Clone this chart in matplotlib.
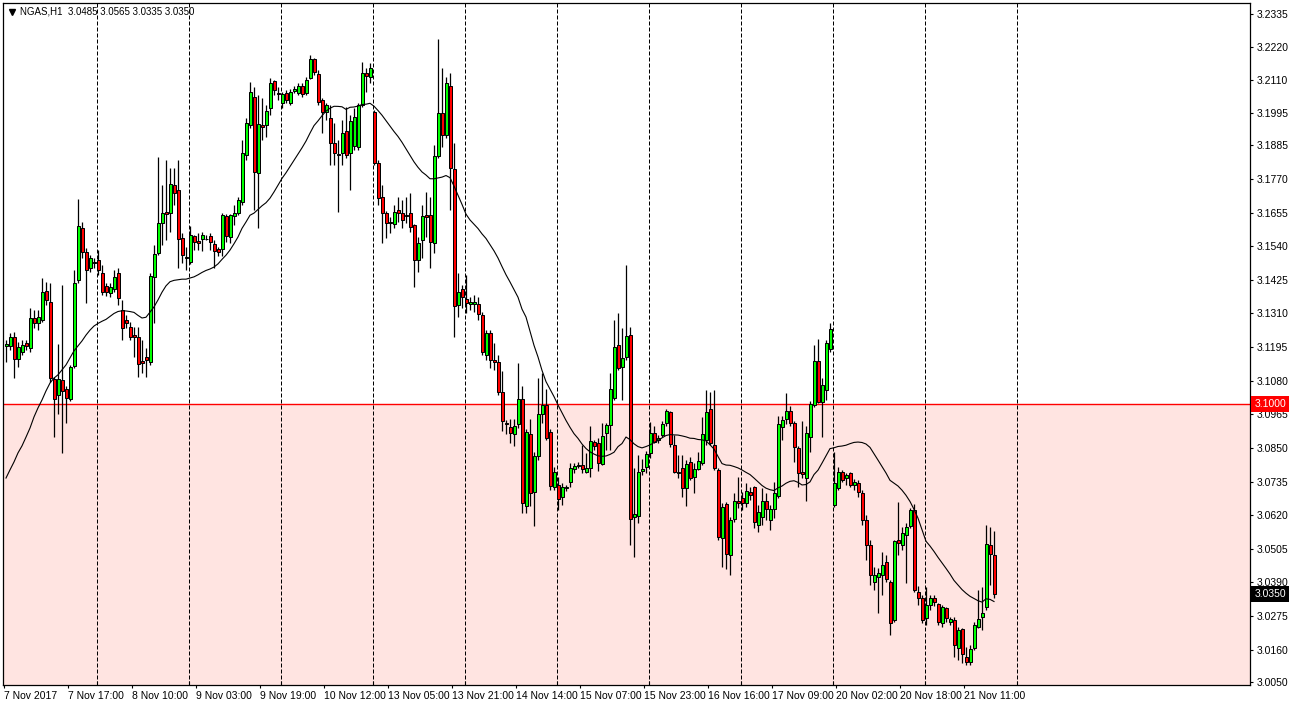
import matplotlib
matplotlib.use("Agg")
import numpy as np
import pandas as pd
import matplotlib.pyplot as plt
from matplotlib.lines import Line2D
from matplotlib.transforms import blended_transform_factory

plt.rcParams['font.family'] = ['Liberation Sans', 'DejaVu Sans']
plt.rcParams['font.size'] = 7.5

# NGAS H1 candles, 7 Nov 2017 01:00 .. 21 Nov 2017, one line per trading day
opens = [
    3.1199, 3.1199, 3.1229, 3.1154, 3.1178, 3.1209, 3.1192, 3.1294, 3.1277, 3.1288, 3.1387, 3.1349, 3.1086, 3.1031, 3.1082, 3.1052, 3.1017, 3.1130, 3.1424, 3.1602, 3.1520, 3.1465, 3.1486,
    3.1493, 3.1448, 3.1404, 3.1380, 3.1394, 3.1448, 3.1322, 3.1288, 3.1264, 3.1236, 3.1229, 3.1147, 3.1161, 3.1144, 3.1435, 3.1517, 3.1619, 3.1657, 3.1654, 3.1749, 3.1732, 3.1568, 3.1503,
    3.1486, 3.1575, 3.1558, 3.1565, 3.1565, 3.1575, 3.1548, 3.1531, 3.1531, 3.1643, 3.1571, 3.1643, 3.1654, 3.1691, 3.1852, 3.1955, 3.2050, 3.1790, 3.1955, 3.1955, 3.2013, 3.2105, 3.2064,
    3.2030, 3.2064, 3.2030, 3.2071, 3.2064, 3.2088, 3.2064, 3.2115, 3.2180, 3.2129, 3.2040, 3.1999, 3.1978, 3.1893, 3.1855, 3.1859, 3.1934, 3.1859, 3.1883, 3.1879, 3.2023, 3.2132, 3.2119,
    3.1999, 3.1825, 3.1708, 3.1654, 3.1623, 3.1616, 3.1664, 3.1654, 3.1647, 3.1654, 3.1613, 3.1493, 3.1561, 3.1647, 3.1647, 3.1551, 3.1848, 3.1996, 3.1920, 3.2088, 3.1804, 3.1339, 3.1394,
    3.1359, 3.1342, 3.1342, 3.1342, 3.1305, 3.1168, 3.1243, 3.1151, 3.1144, 3.1041, 3.0935, 3.0922, 3.0898, 3.0932, 3.1017, 3.0651, 3.0898, 3.0699, 3.0823, 3.0966, 3.0997, 3.0905, 3.0716,
    3.0723, 3.0682, 3.0713, 3.0734, 3.0778, 3.0788, 3.0792, 3.0768, 3.0781, 3.0870, 3.0867, 3.0795, 3.0901, 3.0929, 3.1021, 3.1202, 3.1127, 3.1161, 3.1236, 3.0614, 3.0617, 3.0771, 3.0785,
    3.0833, 3.0901, 3.0877, 3.0894, 3.0935, 3.0973, 3.0860, 3.0768, 3.0781, 3.0713, 3.0802, 3.0750, 3.0778, 3.0798, 3.0877, 3.0983, 3.0860, 3.0775, 3.0542, 3.0658, 3.0484, 3.0607, 3.0669,
    3.0679, 3.0662, 3.0699, 3.0716, 3.0586, 3.0614, 3.0669, 3.0604, 3.0641, 3.0686, 3.0922, 3.0949, 3.0976, 3.0935, 3.0850, 3.0768, 3.0747, 3.0887, 3.0997, 3.1147, 3.1007, 3.1048, 3.1188,
    3.0655, 3.0713, 3.0768, 3.0747, 3.0764, 3.0723, 3.0730, 3.0696, 3.0604, 3.0518, 3.0392, 3.0409, 3.0416, 3.0460, 3.0392, 3.0262, 3.0535, 3.0518, 3.0552, 3.0583, 3.0638, 3.0357, 3.0337,
    3.0269, 3.0313, 3.0337, 3.0316, 3.0251, 3.0303, 3.0255, 3.0262, 3.0166, 3.0231, 3.0135, 3.0118, 3.0166, 3.0238, 3.0272, 3.0306, 3.0518, 3.0485,
]
highs = [
    3.1219, 3.1243, 3.1247, 3.1212, 3.1219, 3.1219, 3.1329, 3.1322, 3.1322, 3.1431, 3.1418, 3.1414, 3.1093, 3.1206, 3.1407, 3.1062, 3.1134, 3.1459, 3.1701, 3.1623, 3.1534, 3.1510, 3.1500,
    3.1527, 3.1476, 3.1414, 3.1414, 3.1459, 3.1465, 3.1356, 3.1305, 3.1281, 3.1264, 3.1264, 3.1219, 3.1192, 3.1448, 3.1544, 3.1845, 3.1749, 3.1835, 3.1808, 3.1808, 3.1835, 3.1585, 3.1537,
    3.1609, 3.1578, 3.1585, 3.1589, 3.1578, 3.1585, 3.1561, 3.1537, 3.1654, 3.1650, 3.1650, 3.1681, 3.1708, 3.1903, 3.1978, 3.2102, 3.2084, 3.2057, 3.2047, 3.2023, 3.2115, 3.2108, 3.2084,
    3.2067, 3.2074, 3.2078, 3.2088, 3.2098, 3.2098, 3.2119, 3.2194, 3.2184, 3.2143, 3.2047, 3.2030, 3.2023, 3.1961, 3.1903, 3.1972, 3.2016, 3.1989, 3.2013, 3.2030, 3.2170, 3.2149, 3.2167,
    3.2006, 3.1835, 3.1749, 3.1660, 3.1640, 3.1681, 3.1708, 3.1698, 3.1708, 3.1722, 3.1616, 3.1571, 3.1681, 3.1725, 3.1708, 3.1886, 3.2249, 3.2149, 3.2119, 3.2132, 3.1893, 3.1448, 3.1407,
    3.1441, 3.1366, 3.1373, 3.1366, 3.1315, 3.1253, 3.1253, 3.1209, 3.1168, 3.1113, 3.0946, 3.0949, 3.0949, 3.1141, 3.1062, 3.0915, 3.0949, 3.0836, 3.1089, 3.1106, 3.1052, 3.0915, 3.0785,
    3.0750, 3.0730, 3.0723, 3.0798, 3.0798, 3.0802, 3.0860, 3.0833, 3.0925, 3.0877, 3.0884, 3.0935, 3.0935, 3.1106, 3.1288, 3.1311, 3.1260, 3.1476, 3.1264, 3.0781, 3.0826, 3.0812, 3.0840,
    3.0939, 3.0925, 3.0894, 3.0942, 3.0983, 3.0976, 3.0894, 3.0826, 3.0826, 3.0809, 3.0819, 3.0798, 3.0836, 3.0956, 3.1048, 3.1041, 3.1048, 3.0781, 3.0662, 3.0665, 3.0614, 3.0696, 3.0750,
    3.0699, 3.0730, 3.0716, 3.0720, 3.0655, 3.0713, 3.0696, 3.0655, 3.0734, 3.0959, 3.0959, 3.1038, 3.0993, 3.0942, 3.0857, 3.0942, 3.0925, 3.1011, 3.1202, 3.1223, 3.1089, 3.1219, 3.1277,
    3.0836, 3.0785, 3.0775, 3.0764, 3.0768, 3.0744, 3.0740, 3.0706, 3.0621, 3.0535, 3.0443, 3.0439, 3.0494, 3.0484, 3.0398, 3.0535, 3.0665, 3.0580, 3.0593, 3.0645, 3.0658, 3.0378, 3.0347,
    3.0374, 3.0347, 3.0347, 3.0320, 3.0313, 3.0306, 3.0272, 3.0272, 3.0238, 3.0234, 3.0169, 3.0176, 3.0255, 3.0364, 3.0374, 3.0586, 3.0580, 3.0565,
]
lows = [
    3.1144, 3.1185, 3.1089, 3.1127, 3.1168, 3.1185, 3.1178, 3.1260, 3.1253, 3.1281, 3.1339, 3.1076, 3.0887, 3.0966, 3.0833, 3.0935, 3.1011, 3.1124, 3.1414, 3.1500, 3.1346, 3.1452, 3.1466,
    3.1441, 3.1373, 3.1370, 3.1366, 3.1383, 3.1339, 3.1219, 3.1260, 3.1219, 3.1161, 3.1093, 3.1106, 3.1093, 3.1134, 3.1277, 3.1510, 3.1544, 3.1561, 3.1589, 3.1681, 3.1465, 3.1483, 3.1459,
    3.1479, 3.1527, 3.1527, 3.1524, 3.1561, 3.1527, 3.1465, 3.1506, 3.1506, 3.1554, 3.1551, 3.1613, 3.1647, 3.1681, 3.1835, 3.1944, 3.1664, 3.1602, 3.1903, 3.1913, 3.1989, 3.2057, 3.2040,
    3.2013, 3.2030, 3.2023, 3.2064, 3.2057, 3.2050, 3.2057, 3.2112, 3.2126, 3.2023, 3.1927, 3.1972, 3.1818, 3.1818, 3.1657, 3.1818, 3.1842, 3.1732, 3.1869, 3.1869, 3.2016, 3.2067, 3.2098,
    3.1818, 3.1681, 3.1551, 3.1568, 3.1585, 3.1602, 3.1623, 3.1602, 3.1619, 3.1589, 3.1400, 3.1452, 3.1500, 3.1571, 3.1465, 3.1517, 3.1842, 3.1879, 3.1910, 3.1664, 3.1229, 3.1298, 3.1329,
    3.1312, 3.1322, 3.1315, 3.1288, 3.1168, 3.1151, 3.1124, 3.1117, 3.1031, 3.0908, 3.0898, 3.0867, 3.0857, 3.0918, 3.0627, 3.0627, 3.0651, 3.0583, 3.0809, 3.0935, 3.0877, 3.0706, 3.0706,
    3.0638, 3.0655, 3.0703, 3.0716, 3.0764, 3.0781, 3.0764, 3.0764, 3.0750, 3.0843, 3.0771, 3.0792, 3.0843, 3.0843, 3.1014, 3.1117, 3.1014, 3.1151, 3.0518, 3.0477, 3.0593, 3.0757, 3.0764,
    3.0815, 3.0867, 3.0867, 3.0887, 3.0925, 3.0853, 3.0764, 3.0747, 3.0682, 3.0651, 3.0740, 3.0696, 3.0775, 3.0792, 3.0860, 3.0860, 3.0775, 3.0535, 3.0443, 3.0436, 3.0416, 3.0597, 3.0645,
    3.0638, 3.0648, 3.0672, 3.0576, 3.0562, 3.0586, 3.0604, 3.0569, 3.0610, 3.0679, 3.0877, 3.0932, 3.0925, 3.0802, 3.0716, 3.0747, 3.0669, 3.0836, 3.0990, 3.1004, 3.0887, 3.1014, 3.1178,
    3.0648, 3.0706, 3.0734, 3.0723, 3.0716, 3.0706, 3.0682, 3.0586, 3.0467, 3.0381, 3.0364, 3.0286, 3.0347, 3.0392, 3.0210, 3.0255, 3.0484, 3.0501, 3.0388, 3.0576, 3.0357, 3.0313, 3.0251,
    3.0245, 3.0296, 3.0310, 3.0245, 3.0238, 3.0255, 3.0245, 3.0135, 3.0125, 3.0115, 3.0108, 3.0108, 3.0159, 3.0234, 3.0228, 3.0296, 3.0381, 3.0335,
]
closes = [
    3.1206, 3.1229, 3.1154, 3.1195, 3.1202, 3.1199, 3.1294, 3.1277, 3.1298, 3.1383, 3.1356, 3.1089, 3.1017, 3.1086, 3.1045, 3.1021, 3.1127, 3.1414, 3.1609, 3.1520, 3.1459, 3.1500, 3.1483,
    3.1459, 3.1383, 3.1383, 3.1400, 3.1435, 3.1363, 3.1260, 3.1277, 3.1229, 3.1229, 3.1137, 3.1141, 3.1151, 3.1438, 3.1513, 3.1619, 3.1654, 3.1650, 3.1753, 3.1722, 3.1565, 3.1510, 3.1500,
    3.1578, 3.1554, 3.1551, 3.1578, 3.1563, 3.1554, 3.1524, 3.1520, 3.1647, 3.1575, 3.1647, 3.1654, 3.1698, 3.1859, 3.1961, 3.2067, 3.1794, 3.1958, 3.1948, 3.2002, 3.2098, 3.2074, 3.2061,
    3.2061, 3.2040, 3.2067, 3.2078, 3.2088, 3.2061, 3.2108, 3.2180, 3.2136, 3.2033, 3.1999, 3.2023, 3.1893, 3.1859, 3.1852, 3.1927, 3.1852, 3.1968, 3.1982, 3.2023, 3.2132, 3.2122, 3.2149,
    3.1825, 3.1705, 3.1654, 3.1619, 3.1619, 3.1657, 3.1654, 3.1630, 3.1643, 3.1606, 3.1493, 3.1551, 3.1643, 3.1640, 3.1554, 3.1848, 3.1996, 3.1920, 3.2098, 3.1807, 3.1335, 3.1383, 3.1366,
    3.1346, 3.1349, 3.1349, 3.1308, 3.1178, 3.1243, 3.1151, 3.1144, 3.1041, 3.0942, 3.0932, 3.0901, 3.0925, 3.1017, 3.0662, 3.0905, 3.0696, 3.0823, 3.0966, 3.0997, 3.0884, 3.0720, 3.0768,
    3.0675, 3.0716, 3.0716, 3.0781, 3.0788, 3.0792, 3.0778, 3.0781, 3.0874, 3.0857, 3.0798, 3.0891, 3.0929, 3.1052, 3.1195, 3.1124, 3.1158, 3.1233, 3.0607, 3.0624, 3.0768, 3.0778, 3.0829,
    3.0901, 3.0870, 3.0884, 3.0932, 3.0976, 3.0863, 3.0768, 3.0764, 3.0713, 3.0795, 3.0747, 3.0778, 3.0805, 3.0898, 3.0973, 3.0867, 3.0781, 3.0545, 3.0648, 3.0487, 3.0604, 3.0669, 3.0662,
    3.0662, 3.0703, 3.0689, 3.0597, 3.0631, 3.0669, 3.0641, 3.0641, 3.0696, 3.0932, 3.0946, 3.0976, 3.0935, 3.0853, 3.0764, 3.0761, 3.0901, 3.1000, 3.1147, 3.1007, 3.1065, 3.1209, 3.1257,
    3.0730, 3.0768, 3.0740, 3.0757, 3.0723, 3.0734, 3.0699, 3.0604, 3.0518, 3.0416, 3.0416, 3.0422, 3.0450, 3.0402, 3.0251, 3.0532, 3.0525, 3.0559, 3.0580, 3.0638, 3.0364, 3.0337, 3.0262,
    3.0313, 3.0337, 3.0323, 3.0255, 3.0306, 3.0269, 3.0265, 3.0176, 3.0228, 3.0145, 3.0118, 3.0162, 3.0245, 3.0265, 3.0286, 3.0521, 3.0487, 3.0350,
]

# moving average (24) as shown for the first bars (history before the window)
ma_period = 24
ma_head = [3.0747, 3.0775, 3.0802, 3.0833, 3.0857, 3.0887, 3.0918, 3.0956, 3.0987, 3.1014, 3.1045, 3.1072,
           3.1089, 3.1100, 3.1117, 3.1134, 3.1158, 3.1182, 3.1199, 3.1216, 3.1236, 3.1253, 3.1267]

day_starts = [23, 46, 69, 92, 115, 138, 161, 184, 207, 230, 253]
time_ticks = [0, 16, 32, 48, 64, 80, 96, 112, 128, 144, 160, 176, 192, 208, 224, 240]
time_labels = ["7 Nov 2017", "7 Nov 17:00", "8 Nov 10:00", "9 Nov 03:00", "9 Nov 19:00", "10 Nov 12:00",
               "13 Nov 05:00", "13 Nov 21:00", "14 Nov 14:00", "15 Nov 07:00", "15 Nov 23:00", "16 Nov 16:00",
               "17 Nov 09:00", "20 Nov 02:00", "20 Nov 18:00", "21 Nov 11:00"]
price_ticks = [3.2335, 3.2220, 3.2110, 3.1995, 3.1885, 3.1770, 3.1655, 3.1540, 3.1425, 3.1310, 3.1195,
               3.1080, 3.0965, 3.0850, 3.0735, 3.0620, 3.0505, 3.0390, 3.0275, 3.0160, 3.0050]
level = 3.1000
symbol = "NGAS,H1"

n = len(closes)
assert len(opens) == n and len(highs) == n and len(lows) == n, (len(opens), len(highs), len(lows), n)
idx = np.arange(n)
o = np.array(opens)
c = np.array(closes)
ma = pd.Series(closes).rolling(ma_period).mean().to_numpy()
ma[:len(ma_head)] = ma_head

W, H = 1292, 708
fig = plt.figure(figsize=(W / 100, H / 100), dpi=100)
fig.patch.set_facecolor('white')
ax = fig.add_axes([3 / W, (H - 685) / H, (1250 - 3) / W, (685 - 3) / H])
ax.set_xlim(-0.75, 311)
ax.set_ylim(3.0039, 3.2372)

ax.axhspan(3.0039, level, color='#ffe4e1', lw=0, zorder=0)
ax.axhline(level, color='red', lw=1.0, zorder=1)
for d in day_starts:
    ax.axvline(d - 0.25, color='black', lw=0.72, linestyle=(0, (4, 2)), zorder=1)

ax.vlines(idx, lows, highs, colors='black', lw=0.9, zorder=2)
body_col = np.where(c > o, '#00ff00', np.where(c < o, '#ff0000', 'black'))
ax.bar(idx, np.abs(c - o), bottom=np.minimum(o, c), width=0.75, color=body_col,
       edgecolor='black', linewidth=0.72, zorder=3)
ax.plot(idx, ma, color='black', lw=0.8, zorder=4)

# axes styling like the terminal
for s in ax.spines.values():
    s.set_color('black')
    s.set_linewidth(0.9)
ax.yaxis.tick_right()
ax.set_yticks(price_ticks)
ax.set_yticklabels([f"{v:.4f}" for v in price_ticks])
ax.tick_params(axis='y', direction='out', length=2.5, width=0.8, pad=2, labelsize=7.5)
ax.set_xticks([t - 0.5 for t in time_ticks])
ax.set_xticklabels(time_labels, ha='left')
ax.set_xticks([d - 0.25 for d in day_starts], minor=True)
ax.tick_params(axis='x', which='major', direction='out', length=2.5, width=0.8, pad=2, labelsize=7.5)
ax.tick_params(axis='x', which='minor', direction='in', length=3, width=0.8)

trans = blended_transform_factory(ax.transAxes, ax.transData)
ax.text(1.0035, level, f"{level:.4f}", transform=trans, ha='left', va='center', color='white',
        fontsize=7.5, bbox=dict(boxstyle='square,pad=0.3', fc='red', ec='none'), clip_on=False, zorder=10)
ax.text(1.0035, closes[-1], f"{closes[-1]:.4f}", transform=trans, ha='left', va='center', color='white',
        fontsize=7.5, bbox=dict(boxstyle='square,pad=0.3', fc='black', ec='none'), clip_on=False, zorder=10)

# header
fig.add_artist(Line2D([12 / W], [1 - 12 / H], marker='v', markersize=4, color='black', transform=fig.transFigure))
fig.text(20 / W, 1 - 12 / H,
         f"{symbol}  {opens[-1]:.4f} {highs[-1]:.4f} {lows[-1]:.4f} {closes[-1]:.4f}",
         ha='left', va='center', fontsize=7, color='black')

fig.savefig("out.png", dpi=100, facecolor='white')
